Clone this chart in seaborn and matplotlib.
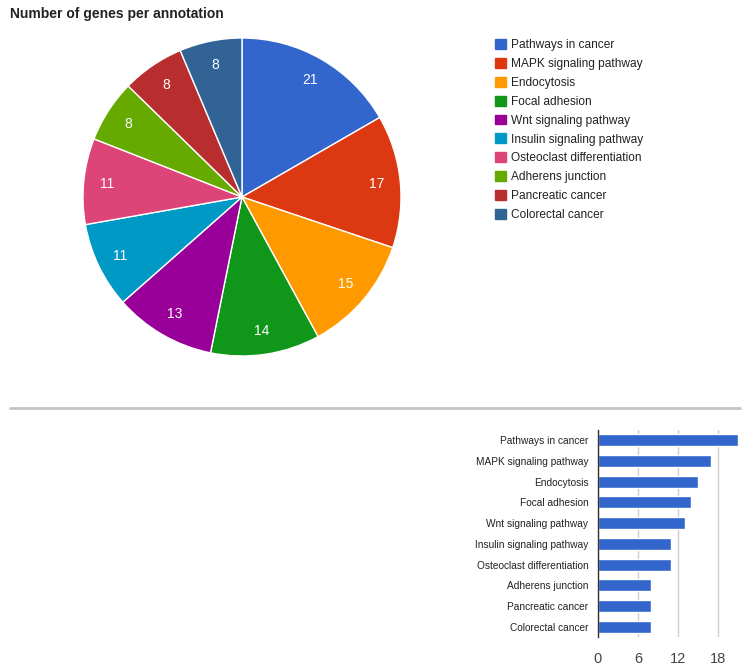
import matplotlib
matplotlib.use("Agg")
import matplotlib.pyplot as plt
from matplotlib.patches import Patch
from matplotlib.lines import Line2D
import seaborn as sns
import pandas as pd

categories = [
    "Pathways in cancer",
    "MAPK signaling pathway",
    "Endocytosis",
    "Focal adhesion",
    "Wnt signaling pathway",
    "Insulin signaling pathway",
    "Osteoclast differentiation",
    "Adherens junction",
    "Pancreatic cancer",
    "Colorectal cancer",
]
gene_counts = [21, 17, 15, 14, 13, 11, 11, 8, 8, 8]
x_ticks = [0, 6, 12, 18]

palette = ["#3366cc", "#dc3912", "#ff9900", "#109618", "#990099",
           "#0099c6", "#dd4477", "#66aa00", "#b82e2e", "#316395"]

sns.set_theme(style="white")
plt.rcParams["font.family"] = ["Liberation Sans", "DejaVu Sans"]

W, H = 747, 665
fig = plt.figure(figsize=(W / 100, H / 100), dpi=100)
fig.patch.set_facecolor("white")

def frac_rect(x0, y0, x1, y1):
    return [x0 / W, 1 - y1 / H, (x1 - x0) / W, (y1 - y0) / H]

# Title
fig.text(10 / W, 1 - 14 / H, "Number of genes per annotation",
         fontsize=10, fontweight="bold", color="#222222", va="center", ha="left")

# Pie chart
ax_pie = fig.add_axes(frac_rect(83, 38, 401, 356))
wedges, texts = ax_pie.pie(
    gene_counts, colors=palette, startangle=90, counterclock=False,
    labels=[str(v) for v in gene_counts], labeldistance=0.85,
    wedgeprops=dict(edgecolor="white", linewidth=1.0),
    textprops=dict(color="white", fontsize=10, ha="center", va="center"),
)
ax_pie.set_xlim(-1.0, 1.0)
ax_pie.set_ylim(-1.0, 1.0)
ax_pie.set_aspect("equal")
ax_pie.axis("off")

# Legend
handles = [Patch(facecolor=c, edgecolor=c) for c in palette]
fig.legend(handles, categories, loc="upper left",
           bbox_to_anchor=(495 / W, 1 - 39 / H), frameon=False,
           fontsize=8.6, handlelength=0.9, handleheight=0.9,
           handletextpad=0.45, labelspacing=0.57, labelcolor="#222222",
           borderaxespad=0, borderpad=0)

# Divider line
fig.add_artist(Line2D([10 / W, 740 / W], [1 - 408 / H, 1 - 408 / H],
                      transform=fig.transFigure, color="#c4c4c4", linewidth=2))

# Bar chart
ax_bar = fig.add_axes(frac_rect(598, 430, 738, 637))
df = pd.DataFrame({"annotation": categories, "genes": gene_counts})
sns.barplot(data=df, y="annotation", x="genes", orient="h", color="#3366cc",
            saturation=1, width=0.58, ax=ax_bar)
ax_bar.set_xlim(0, 21)
ax_bar.set_xticks(x_ticks)
ax_bar.set_xlabel("")
ax_bar.set_ylabel("")
ax_bar.grid(axis="x", color="#cccccc", linewidth=1)
ax_bar.set_axisbelow(True)
for s in ["top", "right", "bottom"]:
    ax_bar.spines[s].set_visible(False)
ax_bar.spines["left"].set_color("#333333")
ax_bar.spines["left"].set_linewidth(1)
ax_bar.tick_params(axis="y", length=0, labelsize=7.3, labelcolor="#222222", pad=7)
ax_bar.tick_params(axis="x", length=0, labelsize=10.5, labelcolor="#444444", pad=11)
ax_bar.set_facecolor("white")

fig.savefig("out.png", dpi=100, facecolor="white")
